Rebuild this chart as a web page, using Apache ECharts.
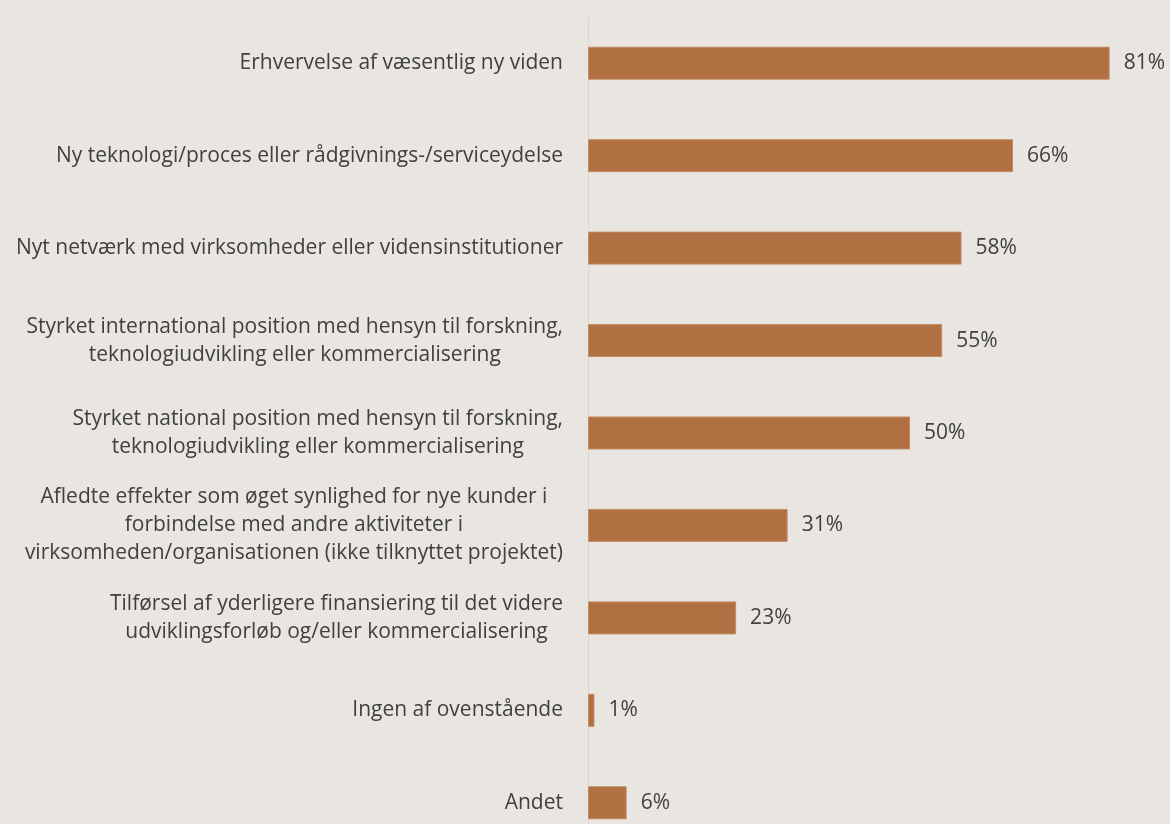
<!DOCTYPE html>
<html>
<head>
<meta charset="utf-8">
<script src="https://cdn.jsdelivr.net/npm/echarts@6/dist/echarts.min.js"></script>
<style>
  html, body { margin: 0; padding: 0; background: #E9E6E1; }
  #chart { width: 1170px; height: 824px; }
</style>
</head>
<body>
<div id="chart"></div>
<script>
// Udbytte af projektet, andel af respondenter (%)
const categories = [
  'Erhvervelse af væsentlig ny viden',
  'Ny teknologi/proces eller rådgivnings-/serviceydelse',
  'Nyt netværk med virksomheder eller vidensinstitutioner',
  'Styrket international position med hensyn til forskning,\nteknologiudvikling eller kommercialisering',
  'Styrket national position med hensyn til forskning,\nteknologiudvikling eller kommercialisering',
  'Afledte effekter som øget synlighed for nye kunder i\nforbindelse med andre aktiviteter i\nvirksomheden/organisationen (ikke tilknyttet projektet)',
  'Tilførsel af yderligere finansiering til det videre\nudviklingsforløb og/eller kommercialisering',
  'Ingen af ovenstående',
  'Andet'
];
const values = [81, 66, 58, 55, 50, 31, 23, 1, 6];

const textColor = '#404040';
const font = '"Open Sans", "DejaVu Sans", sans-serif';

const chart = echarts.init(document.getElementById('chart'), null, { renderer: 'canvas' });
chart.setOption({
  backgroundColor: '#E9E6E1',
  animation: false,
  grid: {
    left: 588, top: 17, width: 644, height: 832,
    containLabel: false, outerBoundsMode: 'none'
  },
  xAxis: {
    type: 'value', min: 0, max: 100, show: false
  },
  yAxis: {
    type: 'category',
    inverse: true,
    data: categories,
    axisLine: { show: true, lineStyle: { color: '#DAD7D2', width: 1 } },
    axisTick: { show: false },
    splitLine: { show: false },
    axisLabel: {
      margin: 25,
      align: 'right',
      // every line of a label is centred inside its block
      formatter: v => v.split('\n').map(l => '{c|' + l + '}').join('\n'),
      rich: {
        c: { align: 'center', fontFamily: font, fontSize: 21, color: textColor, lineHeight: 28 }
      }
    }
  },
  series: [{
    type: 'bar',
    data: values,
    barWidth: 33,
    itemStyle: { color: '#B07042', borderColor: '#C38C66', borderWidth: 1 },
    label: {
      show: true,
      position: 'right',
      distance: 14,
      formatter: p => p.value + '%',
      fontFamily: font,
      fontSize: 21,
      color: textColor
    }
  }]
});
</script>
</body>
</html>
